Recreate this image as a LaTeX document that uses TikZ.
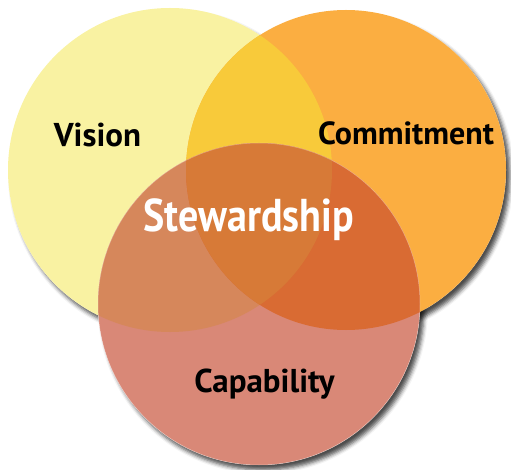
\documentclass[tikz,border=0pt]{standalone}
\usepackage{fontspec}
\setmainfont{PT Sans}
\usetikzlibrary{shadows.blur}
\definecolor{cV}{HTML}{F9F2A2}
\definecolor{cCm}{HTML}{FBAE41}
\definecolor{cCap}{HTML}{D98877}
\definecolor{cVCm}{HTML}{F8CA3A}
\definecolor{cVCap}{HTML}{D6875B}
\definecolor{cCmCap}{HTML}{D96B33}
\definecolor{cAll}{HTML}{D77A37}
\tikzset{
  shadowed/.style={fill=white, blur shadow={shadow xshift=4pt, shadow yshift=-5pt, shadow blur radius=4pt, shadow opacity=70}},
  label/.style={font=\bfseries\fontsize{33}{38}\selectfont, text=black, anchor=base, inner sep=0pt},
  bigtext/.style={font=\bfseries\fontsize{46}{52}\selectfont, text=white, anchor=base, inner sep=0pt, xscale=0.87},
}
\begin{document}
\begin{tikzpicture}[x=1pt, y=-1pt]
\useasboundingbox (0,0) rectangle (511,470);
\coordinate (vc) at (170,170);
\coordinate (cc) at (346,170);
\coordinate (pc) at (259,304);
\def\rV{162}
\def\rC{160}
\def\rP{161}
% shadows
\path[shadowed] (vc) circle (\rV);
\path[shadowed] (cc) circle (\rC);
\path[shadowed] (pc) circle (\rP);
% base fills
\fill[cV] (vc) circle (\rV);
\fill[cCm] (cc) circle (\rC);
\fill[cCap] (pc) circle (\rP);
\begin{scope}
  \clip (vc) circle (\rV);
  \fill[cVCm] (cc) circle (\rC);
\end{scope}
\begin{scope}
  \clip (vc) circle (\rV);
  \fill[cVCap] (pc) circle (\rP);
\end{scope}
\begin{scope}
  \clip (cc) circle (\rC);
  \fill[cCmCap] (pc) circle (\rP);
\end{scope}
\begin{scope}
  \clip (vc) circle (\rV);
  \clip (cc) circle (\rC);
  \fill[cAll] (pc) circle (\rP);
\end{scope}
\draw[white, opacity=0.35, line width=0.5pt] (pc) circle (\rP);
% labels
\node[label] (vision) at (97.5,147) {Vision};
\node[label, font=\bfseries\fontsize{32}{37}\selectfont] (commit) at (406,145) {Commitment};
\node[label] (capab) at (264.5,392) {Capability};
\node[bigtext] (stew) at (248.5,232) {Stewardship};
\end{tikzpicture}
\end{document}
